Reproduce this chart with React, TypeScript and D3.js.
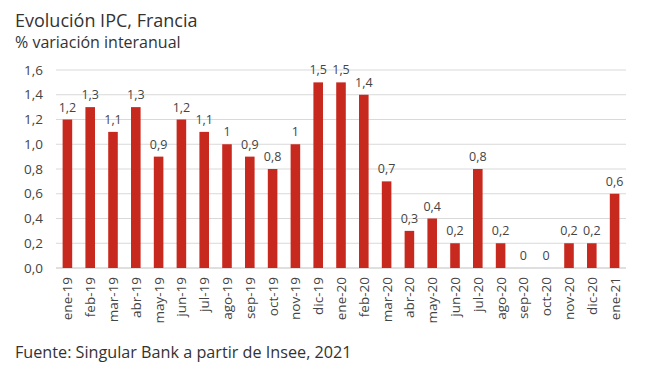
import React from "react";
import * as d3 from "d3";

const categories = ["ene-19","feb-19","mar-19","abr-19","may-19","jun-19","jul-19","ago-19","sep-19","oct-19","nov-19","dic-19","ene-20","feb-20","mar-20","abr-20","may-20","jun-20","jul-20","ago-20","sep-20","oct-20","nov-20","dic-20","ene-21"];
const values = [1.2,1.3,1.1,1.3,0.9,1.2,1.1,1.0,0.9,0.8,1.0,1.5,1.5,1.4,0.7,0.3,0.4,0.2,0.8,0.2,0,0,0.2,0.2,0.6];
const yTicks = [0,0.2,0.4,0.6,0.8,1.0,1.2,1.4,1.6];

const W = 650, H = 375;
const left = 56, right = 626, top = 70, bottom = 268;
const font = "'Open Sans', sans-serif";

const fmtLabel = (v: number) => (Number.isInteger(v) ? String(v) : v.toFixed(1).replace(".", ","));

export default function App() {
  const x = d3.scaleBand<string>().domain(categories).range([left, right]).paddingInner(0.58).paddingOuter(0.29);
  const y = d3.scaleLinear().domain([0, 1.6]).range([bottom, top]);
  return (
    <svg width={W} height={H} style={{ position: "absolute", left: 0, top: 0, background: "#fff" }} fontFamily={font}>
      <text x={15} y={27} fontSize={18} fill="#333">Evolución IPC, Francia</text>
      <text x={15} y={48} fontSize={16} fill="#333">% variación interanual</text>
      {yTicks.map((t) => (
        <g key={t}>
          <line x1={left} x2={right} y1={y(t)} y2={y(t)} stroke={t === 0 ? "#bfbfbf" : "#d9d9d9"} strokeWidth={1} />
          <text x={43} y={y(t)} dy="0.35em" textAnchor="end" fontSize={13.5} fill="#444">{t.toFixed(1).replace(".", ",")}</text>
        </g>
      ))}
      {categories.map((c, i) => {
        const v = values[i];
        const bx = x(c)!;
        const cx = bx + x.bandwidth() / 2;
        return (
          <g key={c}>
            {v > 0 && <rect x={bx} y={y(v)} width={x.bandwidth()} height={y(0) - y(v)} fill="#c8291e" />}
            <text x={cx} y={y(v) - 8} textAnchor="middle" fontSize={12.5} fill="#444">{fmtLabel(v)}</text>
            <text transform={`translate(${cx + 5},${bottom + 9}) rotate(-90)`} textAnchor="end" fontSize={13.5} fill="#444">{c}</text>
          </g>
        );
      })}
      <text x={15} y={358} fontSize={16.2} fill="#333">Fuente: Singular Bank a partir de Insee, 2021</text>
    </svg>
  );
}
